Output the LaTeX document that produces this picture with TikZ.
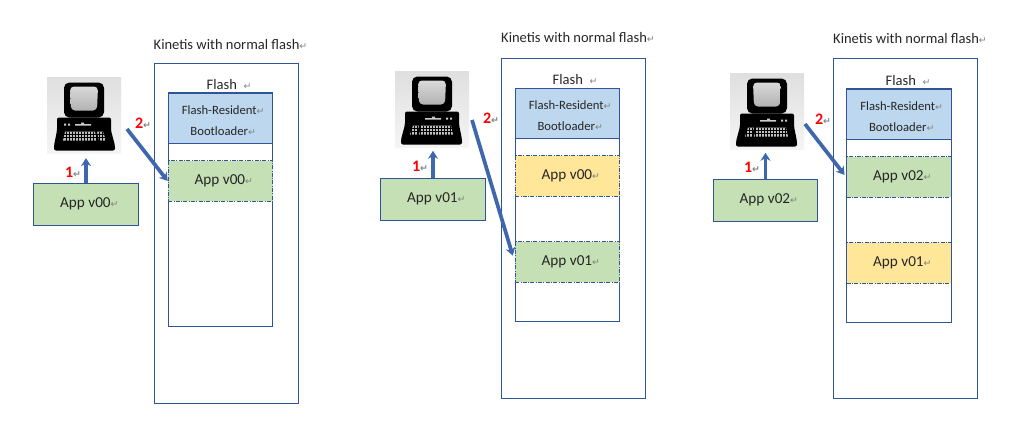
\documentclass[tikz,border=0pt]{standalone}
\usepackage{fontspec}
\setmainfont{Carlito}
\newfontfamily\retfont{DejaVu Sans}
\usetikzlibrary{arrows.meta}
\definecolor{lineblue}{HTML}{2F5597}
\definecolor{arrowblue}{HTML}{3F67AE}
\definecolor{appgreen}{HTML}{C5E0B4}
\definecolor{appyellow}{HTML}{FFE699}
\definecolor{bootblue}{HTML}{BDD7EE}
\newcommand{\ret}{{\retfont\fontsize{7}{7}\selectfont\textcolor{gray}{↵}}}
\tikzset{
  every node/.style={inner sep=0pt,text=black!85,font=\fontsize{10.9}{12}\selectfont},
  outerbox/.style={draw=lineblue,line width=0.7pt,minimum width=108pt,minimum height=255pt},
  columnbox/.style={draw=lineblue,line width=0.7pt,fill=white,minimum width=78.5pt,minimum height=175pt},
  bootbox/.style={draw=lineblue,line width=0.7pt,fill=bootblue,minimum width=78.5pt,minimum height=37.5pt,align=center,font=\fontsize{9.5}{15.7}\selectfont},
  appnew/.style={draw=lineblue,line width=0.7pt,densely dash dot,fill=appgreen,minimum width=78.5pt,minimum height=30.5pt,font=\fontsize{11.4}{12}\selectfont,execute at begin node={\hspace*{5pt}}},
  appold/.style={appnew,fill=appyellow},
  hostapp/.style={draw=lineblue,line width=0.7pt,fill=appgreen,minimum width=78.5pt,minimum height=31.5pt,font=\fontsize{11.4}{12}\selectfont,execute at begin node={\hspace*{5pt}}},
  pcback/.style={minimum width=55.5pt,minimum height=57.5pt,top color=gray!25,middle color=gray!60,bottom color=gray!8},
  steplabel/.style={text=red,font=\fontsize{12}{12}\selectfont\bfseries},
  steparrow/.style={draw=arrowblue,line width=2.8pt,-{Stealth[length=6pt,width=7.5pt]}},
  pcicon/.pic={
    \fill[black,rounded corners=4pt] (-20,-33) -- (20,-33) -- (20,2) -- (-20,2) -- cycle;
    \shade[top color=gray!30,bottom color=gray!60,rounded corners=3pt] (-14,-29) -- (14,-29) -- (13,-5) -- (-13,-5) -- cycle;
    \fill[black,rounded corners=1.5pt] (-27,2) -- (27,2) -- (27,15) -- (31,30) -- (31,35) -- (-30,35) -- (-30,30) -- (-27,15) -- cycle;
    \fill[gray!50] (-19,16) -- (11,16) -- (13,25) -- (-21,25) -- cycle;
    \fill[gray!50] (13,16) -- (19,16) -- (22,25) -- (15,25) -- cycle;
    \foreach \gx in {-18,-15,...,21} \draw[black,line width=0.25pt] (\gx,16) -- (\gx,25);
    \draw[black,line width=0.25pt] (-20,19) -- (20,19) (-21,22) -- (21,22);
    \fill[gray!40] (-20,8) rectangle (-18,10) (-16,8) rectangle (-14,10) (-9,8.5) rectangle (7,10) (-3,7) rectangle (0,8.5);
  }
}
\begin{document}
\begin{tikzpicture}[x=0.75pt,y=-0.75pt]
\useasboundingbox (0,0) rectangle (1015,433);

\node (titleA) at (230.5,45) {Kinetis with normal flash\ret};
\node[outerbox] (outerA) at (226,233.5) {};
\node[columnbox] (colA) at (220.5,209.5) {};
\node (flashA) at (229,85) {Flash\ \ \ret};
\node[bootbox] (bootA) at (220.5,118) {\rule{0pt}{11pt}\hspace*{4pt}Flash-Resident\ret\\\hspace*{4pt}Bootloader\ret};
\node[appnew] (appA) at (220.5,181) {App v00\ret};
\node[pcback] (pcA) at (84,115.5) {};
\pic at (pcA.center) {pcicon};
\node[hostapp] (hostA) at (86,204) {App v00\ret};
\coordinate (startA) at (127,129);
\draw[steparrow,shorten >=3pt] (hostA.north) -- (pcA.south -| hostA.north);
\draw[steparrow] (startA) -- (appA.west);
\node[steplabel] (oneA) at (73,172) {1\ret};
\node[steplabel] (twoA) at (143,123) {2\ret};

\node (titleB) at (578,38) {Kinetis with normal flash\ret};
\node[outerbox] (outerB) at (573,228) {};
\node[columnbox] (colB) at (567.5,205) {};
\node (flashB) at (575,80) {Flash\ \ \ret};
\node[bootbox] (bootB) at (567.5,113) {\rule{0pt}{11pt}\hspace*{4pt}Flash-Resident\ret\\\hspace*{4pt}Bootloader\ret};
\node[appold] (oldB) at (567.5,176) {App v00\ret};
\node[appnew] (appB) at (567.5,262) {App v01\ret};
\node[pcback] (pcB) at (432,109.5) {};
\pic[xscale=-1] at (pcB.center) {pcicon};
\node[hostapp] (hostB) at (433,199) {App v01\ret};
\coordinate (startB) at (472,120);
\draw[steparrow,shorten >=2pt] (hostB.north) -- (pcB.south -| hostB.north);
\draw[steparrow,shorten >=5pt] (startB) -- (appB.west);
\node[steplabel] (oneB) at (420,166) {1\ret};
\node[steplabel] (twoB) at (491,118) {2\ret};

\node (titleC) at (910,39) {Kinetis with normal flash\ret};
\node[outerbox] (outerC) at (905,228.5) {};
\node[columnbox] (colC) at (899,205.5) {};
\node (flashC) at (908,81) {Flash\ \ \ret};
\node[bootbox] (bootC) at (899,114) {\rule{0pt}{11pt}\hspace*{4pt}Flash-Resident\ret\\\hspace*{4pt}Bootloader\ret};
\node[appnew] (appC) at (899,177) {App v02\ret};
\node[appold] (oldC) at (899,263) {App v01\ret};
\node[pcback] (pcC) at (767,111.5) {};
\pic[xscale=-1] at (pcC.center) {pcicon};
\node[hostapp] (hostC) at (765.5,200) {App v02\ret};
\coordinate (startC) at (805,124);
\draw[steparrow,shorten >=2pt] (hostC.north) -- (pcC.south -| hostC.north);
\draw[steparrow,shorten >=2pt] (startC) -- (appC.west);
\node[steplabel] (oneC) at (752,167) {1\ret};
\node[steplabel] (twoC) at (823,119) {2\ret};
\end{tikzpicture}
\end{document}
